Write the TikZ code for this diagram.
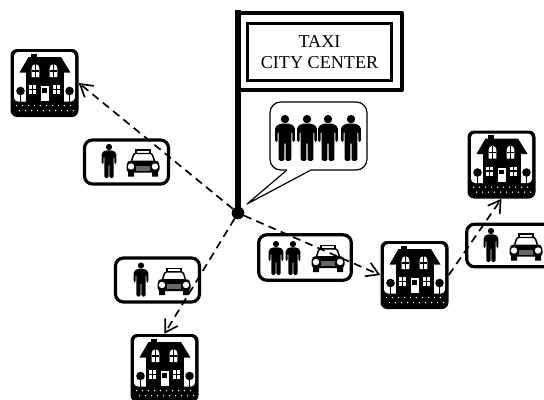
\documentclass[tikz,border=0pt]{standalone}
\usepackage{fontspec}
\setmainfont{Liberation Serif}
\usetikzlibrary{arrows.meta}
\tikzset{
	man/.pic={
		\fill (0,-14) circle (3.1);
		\fill[rounded corners=1.2] (-7.4,3) -- (-7.4,-8) -- (-4,-10.6) -- (4,-10.6) -- (7.4,-8) -- (7.4,3) -- (5.4,3) -- (5.4,-5) -- (4.7,-5) -- (4.7,17) -- (0.4,17) -- (0.4,3) -- (-0.4,3) -- (-0.4,17) -- (-4.7,17) -- (-4.7,-5) -- (-5.4,-5) -- (-5.4,3) -- cycle;
	},
	car/.pic={
		\draw[thick,fill=white] (-7,-10) rectangle (7,-13.5);
		\draw[line width=1.1pt,fill=white,rounded corners=1] (-12,-1) -- (-9,-10) -- (9,-10) -- (12,-1) -- cycle;
		\fill[rounded corners=2.5] (-16.5,-1) -- (-13,-3) -- (13,-3) -- (16.5,-1) -- (16.5,9) -- (-16.5,9) -- cycle;
		\fill[white] (-12,3) circle (3.2) (12,3) circle (3.2);
		\fill[black!60] (-7,2) rectangle (7,7);
		\fill (-15,8) rectangle (-9,13) (9,8) rectangle (15,13);
	},
	house/.pic={
		\fill[rounded corners=5] (-34,-34) rectangle (34,34);
		\fill[white,rounded corners=3] (-30.5,-31) rectangle (30.5,18.5);
		%Roof and walls
		\fill (-14,-29.5) rectangle (-7.5,-24);
		\fill (-25,-10.5) -- (-16,-26) -- (16.5,-26) -- (26,-10.5) -- cycle;
		\fill (-19,-11) rectangle (19,19);
		%Windows
		\foreach \wx in {-9,9}{
			\fill[white] (\wx-3.8,-15) arc[start angle=180,end angle=360,radius=3.8] -- (\wx+3.8,-6) -- (\wx-3.8,-6) -- cycle;
			\draw[line width=0.9pt] (\wx,-19) -- (\wx,-6) (\wx-3.8,-12) -- (\wx+3.8,-12);
		}
		\foreach \wx in {-12,12}{
			\fill[white] (\wx-3.4,2) rectangle (\wx+3.4,11);
			\draw[line width=0.9pt] (\wx,2) -- (\wx,11) (\wx-3.4,6.5) -- (\wx+3.4,6.5);
		}
		\fill[white] (-4,3) rectangle (4.5,17.5);
		\fill (-2.2,5) rectangle (2.7,9.5);
		%Trees
		\foreach \tx in {-24,25}{
			\fill (\tx,8) circle (4.3);
			\draw[line width=1.1pt] (\tx,8) -- (\tx,19);
		}
		%Ground
		\foreach \gx in {-28,-22,...,28}{
			\fill[white] (\gx,22.5) circle (0.75) (\gx+3,27.5) circle (0.75);
		}
	},
	houseBox/.style={minimum size=51pt, inner sep=0pt},
	taxiBox/.style={draw=black, line width=2.4pt, rounded corners=6pt, fill=white, inner sep=0pt},
	route/.style={line width=1.25pt, dash pattern=on 6pt off 4pt, -{Straight Barb[length=9pt,width=11pt]}},
}
\begin{document}
\begin{tikzpicture}[x=0.75pt,y=-0.75pt]
	\useasboundingbox (0,0) rectangle (544,400);
	\begin{scope}
	\clip (0,0) rectangle (544,400);
	%Sign
	\draw[line width=3pt, line join=round] (238,13) -- (402,13) -- (402,90) -- (238,90);
	\draw[line width=3.8pt] (238,10) -- (238,213);
	\node[draw=black, line width=2.6pt, minimum width=108pt, minimum height=42.5pt, inner sep=0pt, align=center, font=\fontsize{13.6}{15.7}\selectfont] (sign) at (319.5,52) {TAXI\\CITY CENTER};
	%Bubble
	\node[draw=black, line width=0.9pt, fill=white, rounded corners=8pt, minimum width=72.7pt, minimum height=51pt, inner sep=0pt] (bubble) at (318.5,136) {};
	\fill[white] (287,168) rectangle (311,172);
	\draw[line width=0.9pt, line join=round] (287,170) -- (247,204) -- (311,170);
	\foreach \mx in {285,307,328,351}
		\pic[scale=1.35] at (\mx,138) {man};
	%Nodes
	\node[circle, fill=black, minimum size=9.5pt, inner sep=0pt] (depot) at (238,213) {};
	\node[houseBox] (house1) at (44.5,83) {};
	\node[houseBox] (house2) at (501.5,164.5) {};
	\node[houseBox] (house3) at (414.5,275) {};
	\node[houseBox] (house4) at (164.5,368) {};
	\node[taxiBox, minimum width=63pt, minimum height=33pt] (taxi1) at (126.5,162) {};
	\node[taxiBox, minimum width=69.5pt, minimum height=34pt] (taxi2) at (305,257.5) {};
	\node[taxiBox, minimum width=69.5pt, minimum height=32pt] (taxi3) at (513,245.5) {};
	\node[taxiBox, minimum width=63pt, minimum height=33pt] (taxi4) at (157.5,280) {};
	%Icons
	\pic at (house1) {house};
	\pic at (house2) {house};
	\pic at (house3) {house};
	\pic at (house4) {house};
	\pic at (109,161) {man};
	\pic at (143,163.5) {car};
	\pic at (276,258) {man};
	\pic at (293,258) {man};
	\pic at (328,259) {car};
	\pic at (491,245) {man};
	\pic at (526,247.5) {car};
	\pic at (141,279.5) {man};
	\pic at (174,282) {car};
	%Lines
	\draw[route] (depot) -- (house1.east);
	\draw[route] (depot) -- (house3.west);
	\draw[route] (depot) -- (house4.north);
	\draw[route] (house3.east) -- (house2.south);
	\end{scope}
\end{tikzpicture}
\end{document}
